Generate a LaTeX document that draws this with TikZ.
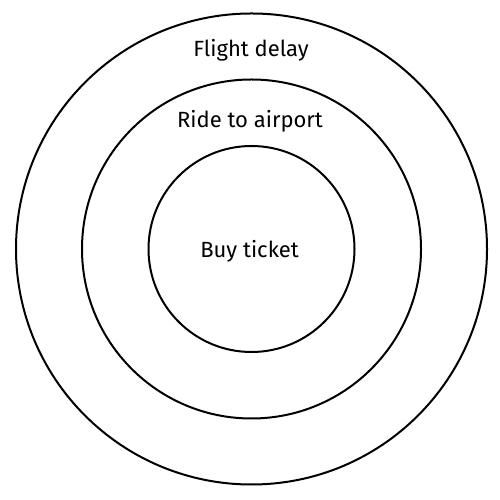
\documentclass[tikz,border=0pt]{standalone}
\usepackage{fontspec}
\setmainfont{Fira Sans}
\begin{document}
\begin{tikzpicture}[x=1pt,y=1pt,
  ring/.style={draw=black,line width=2pt,circle,inner sep=0pt},
  lbl/.style={font=\fontsize{22}{26}\selectfont,anchor=base,inner sep=0pt}]
\useasboundingbox (0,0) rectangle (500,500);
\node[ring,minimum size=471pt] (outer) at (251.5,251) {};
\node[ring,minimum size=339pt] (middle) at (251.5,251) {};
\node[ring,minimum size=206pt] (inner) at (251.5,251) {};
\node[lbl] (flight) at (251,443) {Flight delay};
\node[lbl] (ride) at (250,372) {Ride to airport};
\node[lbl] (buy) at (249.5,242) {Buy ticket};
\end{tikzpicture}
\end{document}
